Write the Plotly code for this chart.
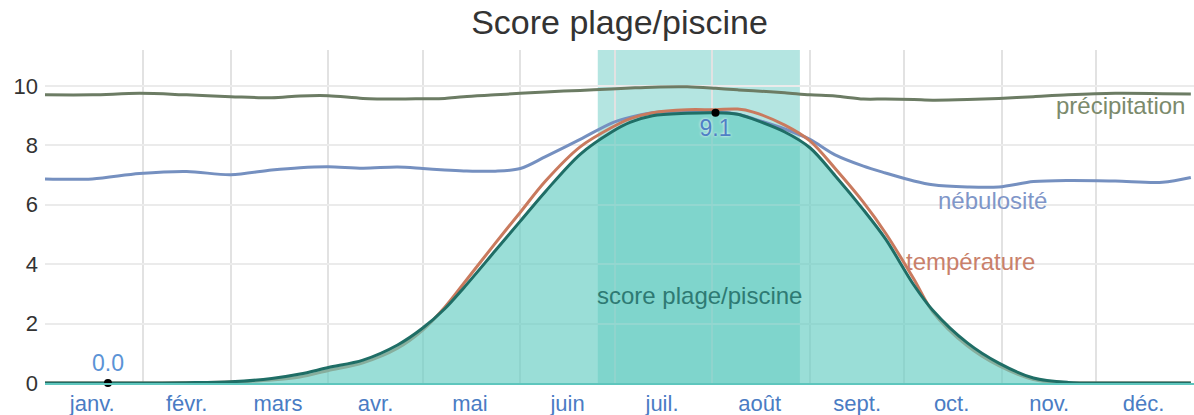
import plotly.graph_objects as go

# Day of year for each sample
days = [0, 15, 30, 45, 59, 72, 81, 90, 101, 112, 120, 127, 133, 143, 151, 159,
        170, 180, 186, 193, 204, 213, 220, 225, 235, 243, 251, 260, 267, 276,
        282, 293, 303, 314, 325, 340, 355, 364]

score = [0, 0, 0, 0.01, 0.04, 0.15, 0.3, 0.52, 0.77, 1.28, 1.85, 2.5, 3.2, 4.45,
         5.45, 6.45, 7.7, 8.45, 8.78, 9.0, 9.08, 9.1, 9.05, 8.88, 8.45, 7.92, 6.98,
         5.83, 4.85, 3.3, 2.45, 1.35, 0.67, 0.17, 0.02, 0, 0, 0]

temperature = [0, 0, 0, 0.01, 0.03, 0.1, 0.2, 0.42, 0.68, 1.17, 1.78, 2.55, 3.35,
               4.7, 5.75, 6.8, 7.95, 8.6, 8.9, 9.1, 9.2, 9.2, 9.22, 9.12, 8.68,
               8.15, 7.22, 6.08, 5.05, 3.5, 2.4, 1.25, 0.58, 0.12, 0.01, 0, 0, 0]

nebulosite = [6.87, 6.87, 7.05, 7.12, 7.01, 7.17, 7.25, 7.28, 7.23, 7.27, 7.22,
              7.17, 7.14, 7.13, 7.22, 7.62, 8.2, 8.75, 8.95, 9.1, 9.15, 9.15,
              9.05, 8.9, 8.55, 8.2, 7.68, 7.3, 7.07, 6.8, 6.67, 6.6, 6.6, 6.78,
              6.82, 6.8, 6.76, 6.92]

precipitation = [9.70, 9.70, 9.75, 9.70, 9.64, 9.60, 9.66, 9.67, 9.58, 9.56, 9.57,
                 9.58, 9.64, 9.70, 9.75, 9.80, 9.85, 9.90, 9.93, 9.96, 9.97, 9.92,
                 9.87, 9.84, 9.77, 9.70, 9.66, 9.56, 9.56, 9.54, 9.52, 9.54, 9.58,
                 9.64, 9.70, 9.75, 9.74, 9.73]

month_labels = ["janv.", "févr.", "mars", "avr.", "mai", "juin", "juil.", "août",
                "sept.", "oct.", "nov.", "déc."]
month_mid = [15, 45, 74, 105, 135, 166, 196, 227, 258, 288, 319, 349]
month_start = [31, 59, 90, 120, 151, 181, 212, 243, 273, 304, 334]

best_period = [175.6, 239.8]
min_day, min_val = 20, 0.0
max_day, max_val = 213, 9.1

FONT = "Liberation Sans, Arial, sans-serif"

fig = go.Figure()

fig.add_trace(go.Scatter(
    x=days, y=precipitation, mode="lines",
    line=dict(color="#6c7c64", width=3, shape="spline", smoothing=0.9),
    hoverinfo="skip", showlegend=False))
fig.add_trace(go.Scatter(
    x=days, y=nebulosite, mode="lines",
    line=dict(color="#7590c0", width=3, shape="spline", smoothing=0.9),
    hoverinfo="skip", showlegend=False))
fig.add_trace(go.Scatter(
    x=days, y=temperature, mode="lines",
    line=dict(color="#c97a5e", width=3, shape="spline", smoothing=0.9),
    hoverinfo="skip", showlegend=False))
fig.add_trace(go.Scatter(
    x=days, y=score, mode="lines", fill="tozeroy",
    fillcolor="rgba(97,204,193,0.64)",
    line=dict(color="#1f6e66", width=3, shape="spline", smoothing=0.9),
    hoverinfo="skip", showlegend=False))

# Minimum and maximum markers
fig.add_trace(go.Scatter(
    x=[min_day], y=[min_val], mode="markers+text",
    marker=dict(color="black", size=8),
    text=[f"{min_val:.1f}"], textposition="top center",
    textfont=dict(family=FONT, size=23, color="#5b93d6"),
    hoverinfo="skip", showlegend=False, cliponaxis=False))
fig.add_trace(go.Scatter(
    x=[max_day], y=[max_val], mode="markers+text",
    marker=dict(color="black", size=8),
    text=[f"{max_val:.1f}"], textposition="bottom center",
    textfont=dict(family=FONT, size=23, color="#4f80c5",
                  shadow="0px 0px 3px white"),
    hoverinfo="skip", showlegend=False, cliponaxis=False))

# Series labels
series_labels = [
    ("précipitation", 341.5, 9.33, "#7b8a6c"),
    ("nébulosité", 301, 6.13, "#7f96c8"),
    ("température", 294, 4.1, "#c9806a"),
    ("score plage/piscine", 208, 2.93, "#2e7a73"),
]
for txt, xx, yy, col in series_labels:
    fig.add_annotation(x=xx, y=yy, text=txt, showarrow=False,
                       font=dict(family=FONT, size=24, color=col),
                       xanchor="center", yanchor="middle")

# Best period highlight
fig.add_shape(type="rect", xref="x", yref="paper",
              x0=best_period[0], x1=best_period[1], y0=0, y1=1,
              fillcolor="rgba(97,200,192,0.475)", line=dict(width=0),
              layer="below")

fig.update_layout(
    width=1194, height=415,
    margin=dict(l=45, r=0, t=50, b=32),
    paper_bgcolor="white", plot_bgcolor="white",
    title=dict(text="Score plage/piscine", x=0.5, xref="paper",
               y=1 - 22 / 415, yref="container", yanchor="middle",
               font=dict(family=FONT, size=34, color="#333333")),
    xaxis=dict(range=[0, 365], tickmode="array", tickvals=month_mid,
               ticktext=month_labels, showgrid=False, zeroline=False,
               ticks="", showline=True, linecolor="#5ec6bd", linewidth=2,
               tickfont=dict(family=FONT, size=22, color="#4a7cc4"),
               minor=dict(tickmode="array", tickvals=month_start,
                          showgrid=True, gridcolor="#e2e2e2", gridwidth=1.5,
                          ticks="")),
    yaxis=dict(range=[0, 11.21], tickvals=[0, 2, 4, 6, 8, 10],
               showgrid=True, gridcolor="#ebebeb", gridwidth=1.5,
               zeroline=False, ticks="", ticklabelstandoff=6,
               tickfont=dict(family=FONT, size=22, color="#333333")),
)

fig.write_html("out.html")
